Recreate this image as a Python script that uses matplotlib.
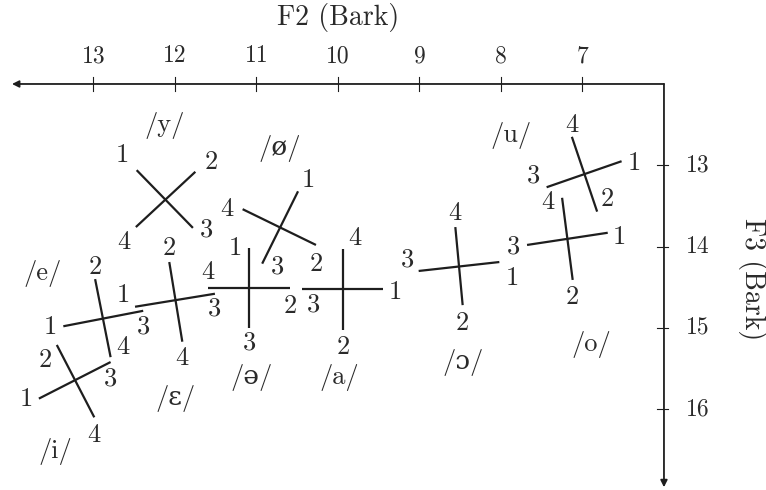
import matplotlib.pyplot as plt

plt.rcParams['font.family'] = ['cmr10', 'DejaVu Serif']
plt.rcParams['axes.formatter.use_mathtext'] = True

# vowels and the four measured points (1, 2, 3, 4) in Bark
vowels = ['y', 'ø', 'ə', 'a', 'ɔ', 'o', 'u', 'e', 'ɛ', 'i']
f2 = [
    [12.47, 11.75, 11.78, 12.48],
    [10.49, 10.27, 10.93, 11.17],
    [11.09, 10.59, 11.09, 11.60],
    [9.45, 9.94, 10.44, 9.94],
    [8.02, 8.47, 9.01, 8.56],
    [6.69, 7.12, 7.68, 7.25],
    [6.52, 6.82, 7.44, 7.13],
    [13.37, 12.98, 12.39, 12.79],
    [12.49, 12.07, 11.51, 11.91],
    [13.67, 13.45, 12.79, 12.99],
]
f3 = [
    [13.06, 13.08, 13.77, 13.76],
    [13.32, 13.98, 14.21, 13.54],
    [14.02, 14.51, 15.00, 14.51],
    [14.52, 15.03, 14.52, 14.03],
    [14.19, 14.72, 14.30, 13.76],
    [13.83, 14.41, 13.98, 13.40],
    [12.95, 13.57, 13.27, 12.65],
    [14.98, 14.40, 14.79, 15.36],
    [14.74, 14.19, 14.58, 15.17],
    [15.87, 15.21, 15.42, 16.10],
]
f2_ticks = [13, 12, 11, 10, 9, 8, 7]
f3_ticks = [13, 14, 15, 16]

# label placement (pixels, x right / y down)
num_offsets = {
    'y': [(-14, -15), (16, -10), (14, 2), (-12, 15)],
    'ø': [(10, -11), (0, 19), (15, 3), (-16, 0)],
    'ə': [(-14, 0), (0, 18), (0, 15), (0, -16)],
    'a': [(13, 3), (0, 17), (11, 16), (12, -11)],
    'ɔ': [(13, 16), (0, 18), (-11, -11), (0, -14)],
    'o': [(12, 4), (0, 17), (-14, 2), (-14, 4)],
    'u': [(13, 2), (10, -12), (-13, -12), (0, -12)],
    'e': [(-13, 1), (0, -12), (0, 16), (12, -10)],
    'ɛ': [(-12, -12), (0, -14), (0, 15), (0, 16)],
    'i': [(-13, 1), (-12, 15), (0, 17), (0, 18)],
}
name_offsets = {'y': (-1, -74), 'ø': (0, -79), 'ə': (3, 89), 'a': (-3, 88),
                'ɔ': (4, 96), 'o': (24, 106), 'u': (-73, -39), 'e': (-60, -45),
                'ɛ': (0, 97), 'i': (-20, 71)}

ink = '#1e1e1e'
txt = '#2a2a2a'
fs = 19

fig = plt.figure(figsize=(7.66, 4.90), dpi=100)
ax = fig.add_axes([0, 0, 1, 1])
ax.set_xlim(14.147, 4.748)
ax.set_ylim(16.994, 10.967)
ax.axis('off')

# axes with arrows
ax.annotate('', xy=(14, 12), xytext=(6, 12),
            arrowprops=dict(arrowstyle='-|>', color=ink, lw=1.3, mutation_scale=10,
                            shrinkA=0, shrinkB=0))
ax.annotate('', xy=(6, 16.96), xytext=(6, 12),
            arrowprops=dict(arrowstyle='-|>', color=ink, lw=1.3, mutation_scale=10,
                            shrinkA=0, shrinkB=0))
for t in f2_ticks:
    ax.plot([t, t], [11.91, 12.09], color=ink, lw=0.8)
    ax.annotate(str(t), xy=(t, 12), xytext=(0, 28), textcoords='offset pixels',
                ha='center', va='center', fontsize=17, color=txt)
for t in f3_ticks:
    ax.plot([6.09, 5.95], [t, t], color=ink, lw=0.8)
    ax.annotate(str(t), xy=(6, t), xytext=(22, 0), textcoords='offset pixels',
                ha='left', va='center', fontsize=17, color=txt)
ax.annotate('F2 (Bark)', xy=(10, 12), xytext=(0, 66), textcoords='offset pixels',
            ha='center', va='center', fontsize=20, color=txt)
ax.annotate('F3 (Bark)', xy=(6, 14.4), xytext=(89, 0), textcoords='offset pixels',
            ha='center', va='center', rotation=270, fontsize=20, color=txt)

for v, xs, ys in zip(vowels, f2, f3):
    # segments 1-3 and 2-4
    ax.plot([xs[0], xs[2]], [ys[0], ys[2]], color=ink, lw=1.6, solid_capstyle='butt')
    ax.plot([xs[1], xs[3]], [ys[1], ys[3]], color=ink, lw=1.6, solid_capstyle='butt')
    for k in range(4):
        dx, dy = num_offsets[v][k]
        ax.annotate(str(k + 1), xy=(xs[k], ys[k]), xytext=(dx, -dy),
                    textcoords='offset pixels', ha='center', va='center',
                    fontsize=fs, color=txt)
    cx = sum(xs) / 4
    cy = sum(ys) / 4
    dx, dy = name_offsets[v]
    ax.annotate('/' + v + '/', xy=(cx, cy), xytext=(dx, -dy),
                textcoords='offset pixels', ha='center', va='center',
                fontsize=fs, color=txt)

fig.savefig('out.png', dpi=100)
